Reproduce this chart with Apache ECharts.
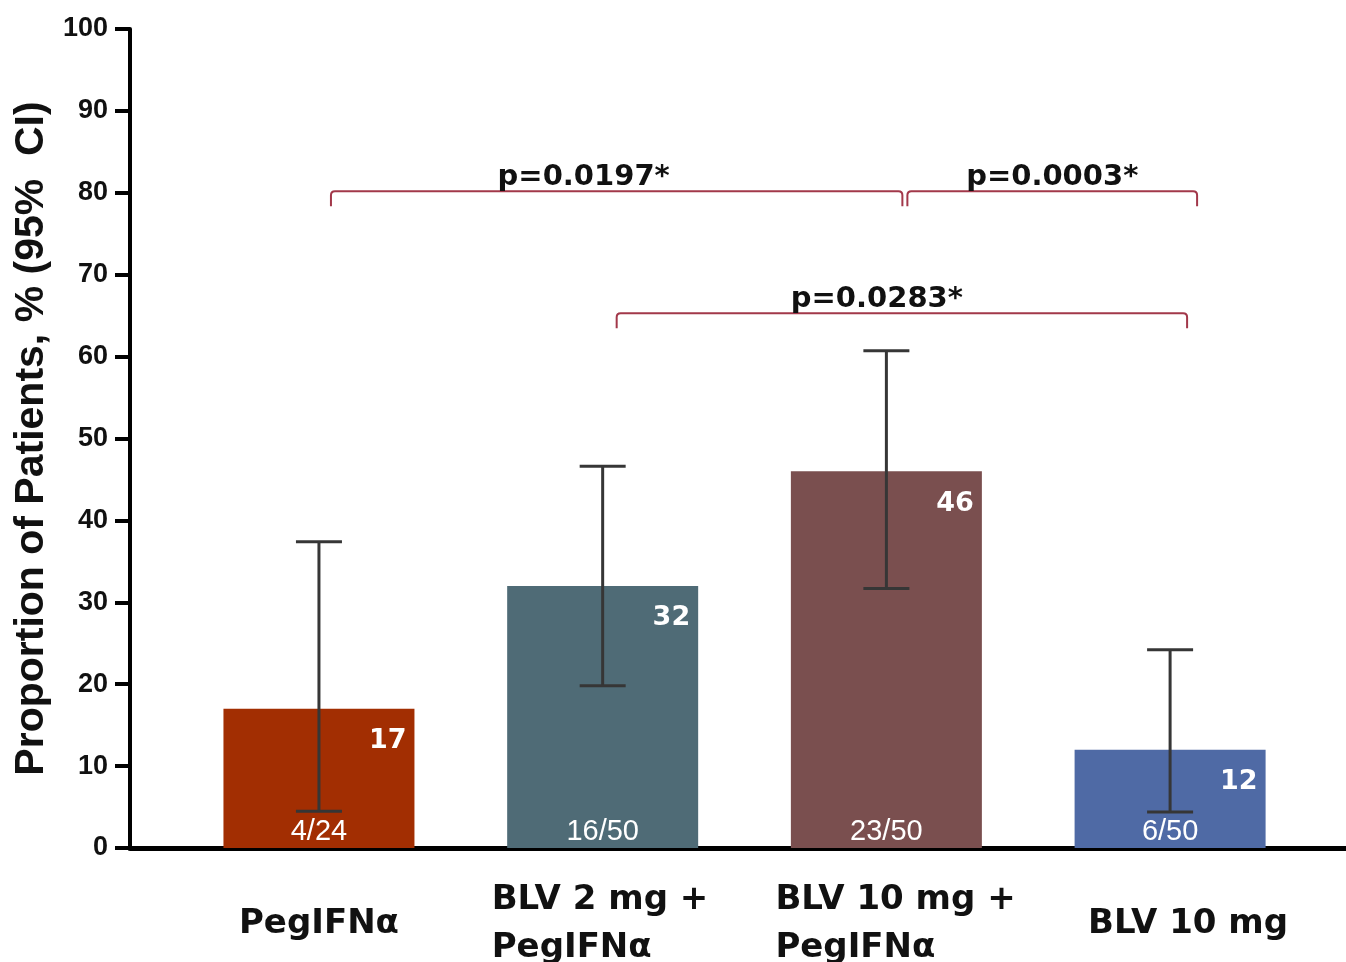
<!DOCTYPE html>
<html>
<head>
<meta charset="utf-8">
<title>Proportion of Patients</title>
<script src="https://cdn.jsdelivr.net/npm/echarts@6/dist/echarts.min.js"></script>
<style>
  html, body { margin: 0; padding: 0; background: #fff; }
  #chart { width: 1346px; height: 962px; }
</style>
</head>
<body>
<div id="chart"></div>
<script>
// Treatment groups, shown left to right
const groups = ['PegIFNα', 'BLV 2 mg +\nPegIFNα', 'BLV 10 mg +\nPegIFNα', 'BLV 10 mg'];
// Response rate (%) per group
const responseRate = [17, 32, 46, 12];
// Responders / patients per group
const responders = ['4/24', '16/50', '23/50', '6/50'];
// 95% confidence interval bounds (%)
const ciLower = [4.5, 19.8, 31.7, 4.4];
const ciUpper = [37.4, 46.6, 60.7, 24.2];
// Pairwise comparisons (group numbers are 1-based) and their p-values
const compareFrom = [1, 3, 2];
const compareTo = [3, 4, 4];
const pValues = ['p=0.0197*', 'p=0.0003*', 'p=0.0283*'];
// Y-axis tick values
const yTicks = [0, 10, 20, 30, 40, 50, 60, 70, 80, 90, 100];

const barColors = ['#a22e02', '#4f6b76', '#7a4f4f', '#4f6aa5'];
const FONT = '"Liberation Sans", Arial, Helvetica, sans-serif';
const WIDE = '"DejaVu Sans", Verdana, sans-serif';

// Bracket drawing style: height on the y scale, end insets (px) and label shift (px)
const bracketStyle = [
  { level: 80.2, inset: [12, 16], labelDx: -33 },
  { level: 80.2, inset: [21, 27], labelDx: 0 },
  { level: 65.3, inset: [14, 17], labelDx: -25 }
];
// Extra left padding (px) applied to single-line group labels
const labelPad = [0, 0, 0, 40];

const positions = groups.map((g, i) => i + 1);

const chart = echarts.init(document.getElementById('chart'), null, { renderer: 'canvas' });

chart.setOption({
  animation: false,
  backgroundColor: '#ffffff',
  textStyle: { fontFamily: FONT },
  grid: { left: 130, right: 0, top: 29, bottom: 114, containLabel: false, outerBoundsMode: 'none' },
  xAxis: {
    type: 'value',
    min: 0.334,
    max: 4.62,
    splitLine: { show: false },
    axisTick: { show: false },
    axisLine: { onZero: false, lineStyle: { color: '#000', width: 5 } },
    axisLabel: {
      customValues: positions,
      margin: 28,
      color: '#111',
      fontFamily: WIDE,
      formatter: function (v) {
        const i = Math.round(v) - 1;
        const label = groups[i] || '';
        const lines = label.split('\n');
        if (lines.length > 1) {
          return lines.map(l => '{two|' + l + '}').join('\n');
        }
        return labelPad[i] ? '{onePad|' + label + '}' : '{one|' + label + '}';
      },
      rich: {
        one: { fontSize: 34, fontWeight: 'bold', lineHeight: 96, color: '#111', fontFamily: WIDE },
        onePad: { fontSize: 34, fontWeight: 'bold', lineHeight: 96, color: '#111', fontFamily: WIDE, padding: [0, 0, 0, 36] },
        two: { fontSize: 34, fontWeight: 'bold', lineHeight: 48, color: '#111', fontFamily: WIDE, width: 222, align: 'left' }
      }
    }
  },
  yAxis: {
    type: 'value',
    min: yTicks[0],
    max: yTicks[yTicks.length - 1],
    interval: 10,
    name: 'Proportion of Patients, % (95%  CI)',
    nameLocation: 'middle',
    nameRotate: 90,
    nameGap: 76,
    nameTextStyle: { fontSize: 41, fontWeight: 'bold', color: '#111', fontFamily: FONT },
    splitLine: { show: false },
    axisLine: { show: true, lineStyle: { color: '#000', width: 4 } },
    axisTick: { show: true, length: 15, lineStyle: { color: '#000', width: 4 } },
    axisLabel: { margin: 22, fontSize: 27, fontWeight: 'bold', color: '#111', fontFamily: FONT }
  },
  series: [
    {
      name: 'Response',
      type: 'bar',
      barWidth: 191,
      barGap: '-100%',
      z: 2,
      data: responseRate.map((v, i) => ({
        value: [positions[i], v],
        itemStyle: { color: barColors[i] }
      })),
      label: {
        show: true,
        position: 'insideTopRight',
        distance: 8,
        offset: [0, 11],
        color: '#fff',
        fontSize: 27,
        fontWeight: 'bold',
        fontFamily: WIDE,
        formatter: p => String(p.value[1])
      }
    },
    {
      name: 'Responders',
      type: 'bar',
      barWidth: 191,
      barGap: '-100%',
      z: 4,
      itemStyle: { color: 'rgba(0,0,0,0)' },
      data: responseRate.map((v, i) => [positions[i], v]),
      label: {
        show: true,
        position: 'insideBottom',
        distance: 0,
        offset: [0, -2],
        color: '#fff',
        fontSize: 29,
        fontFamily: FONT,
        formatter: p => responders[p.dataIndex]
      },
      emphasis: { disabled: true }
    },
    {
      name: '95% CI',
      type: 'custom',
      z: 5,
      data: positions.map((x, i) => [x, ciLower[i], ciUpper[i]]),
      encode: { x: 0, y: [1, 2] },
      renderItem: function (params, api) {
        const x = api.value(0);
        const lo = api.coord([x, api.value(1)]);
        const hi = api.coord([x, api.value(2)]);
        const hw = 23;
        const st = { stroke: '#363636', lineWidth: 3 };
        return {
          type: 'group',
          children: [
            { type: 'line', shape: { x1: lo[0], y1: lo[1], x2: hi[0], y2: hi[1] }, style: st },
            { type: 'line', shape: { x1: lo[0] - hw, y1: lo[1], x2: lo[0] + hw, y2: lo[1] }, style: st },
            { type: 'line', shape: { x1: hi[0] - hw, y1: hi[1], x2: hi[0] + hw, y2: hi[1] }, style: st }
          ]
        };
      }
    },
    {
      name: 'Comparisons',
      type: 'custom',
      z: 6,
      data: compareFrom.map((f, i) => [f, compareTo[i], i]),
      encode: { x: [0, 1] },
      renderItem: function (params, api) {
        const i = api.value(2);
        const s = bracketStyle[i];
        const a = api.coord([api.value(0), s.level]);
        const b = api.coord([api.value(1), s.level]);
        const x1 = a[0] + s.inset[0];
        const x2 = b[0] + s.inset[1];
        const y = a[1];
        const drop = 15, r = 4;
        const d = 'M' + x1 + ',' + (y + drop) +
          ' L' + x1 + ',' + (y + r) +
          ' Q' + x1 + ',' + y + ' ' + (x1 + r) + ',' + y +
          ' L' + (x2 - r) + ',' + y +
          ' Q' + x2 + ',' + y + ' ' + x2 + ',' + (y + r) +
          ' L' + x2 + ',' + (y + drop);
        return {
          type: 'group',
          children: [
            {
              type: 'path',
              shape: { pathData: d },
              style: { stroke: '#a2384a', lineWidth: 2, fill: null }
            },
            {
              type: 'text',
              x: (x1 + x2) / 2 + s.labelDx,
              y: y + 1,
              style: {
                text: pValues[i],
                fill: '#111',
                fontSize: 29,
                fontWeight: 'bold',
                fontFamily: WIDE,
                align: 'center',
                verticalAlign: 'bottom'
              }
            }
          ]
        };
      }
    }
  ]
});
</script>
</body>
</html>
